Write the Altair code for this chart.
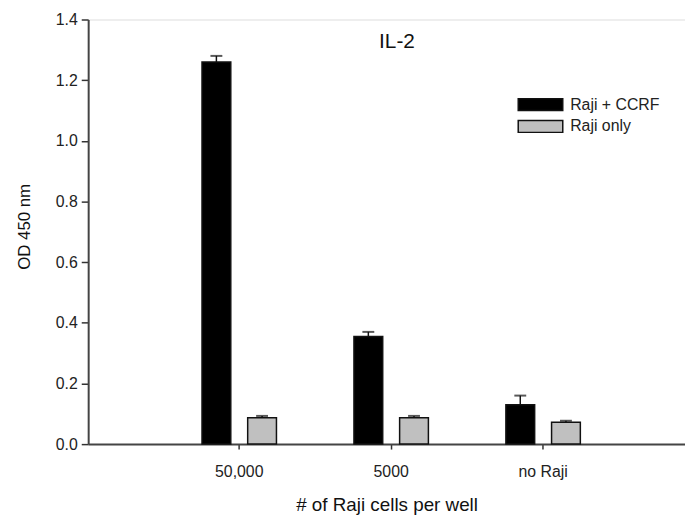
import altair as alt
import pandas as pd

categories = ["50,000", "5000", "no Raji"]
series = ["Raji + CCRF", "Raji only"]
raji_ccrf = [1.26, 0.355, 0.13]
raji_ccrf_err = [0.02, 0.015, 0.03]
raji_only = [0.087, 0.087, 0.072]
raji_only_err = [0.006, 0.006, 0.005]
colors = ["#000000", "#c0c0c0"]

rows = []
for i, c in enumerate(categories):
    rows.append({"cat": c, "series": series[0], "val": raji_ccrf[i], "hi": raji_ccrf[i] + raji_ccrf_err[i]})
    rows.append({"cat": c, "series": series[1], "val": raji_only[i], "hi": raji_only[i] + raji_only_err[i]})
df = pd.DataFrame(rows)

FONT = "Liberation Sans"

x = alt.X("cat:N", sort=categories, title="# of Raji cells per well",
          scale=alt.Scale(paddingInner=0.51, paddingOuter=0.719, align=0.521),
          axis=alt.Axis(labelAngle=0, labelFontSize=16, labelColor="#222222", labelFont=FONT,
                        titleFontSize=19, titleFont=FONT, titleFontWeight="normal", titleColor="#111111",
                        tickSize=5, tickColor="#333333", tickWidth=1.5,
                        domainColor="#444444", domainWidth=2, labelPadding=15,
                        titleY=61, titleBaseline="middle"))
xo = alt.XOffset("series:N", sort=series, scale=alt.Scale(paddingInner=0.37, paddingOuter=0))
y = alt.Y("val:Q", title="OD 450 nm",
          scale=alt.Scale(domain=[0, 1.4], nice=False),
          axis=alt.Axis(values=[0, 0.2, 0.4, 0.6, 0.8, 1.0, 1.2, 1.4], format=".1f", grid=False,
                        labelFontSize=16, labelColor="#222222", labelFont=FONT,
                        titleFontSize=17, titleFont=FONT, titleFontWeight="normal", titleColor="#111111",
                        tickSize=7, tickColor="#333333", tickWidth=1.5,
                        domainColor="#444444", domainWidth=2, labelPadding=4,
                        titleX=-64, titleY=209, titleBaseline="middle"))

base = alt.Chart(df)

bars = base.mark_bar(stroke="#111111", strokeWidth=1.5).encode(
    x=x, xOffset=xo, y=y,
    fill=alt.Fill("series:N", sort=series,
                  scale=alt.Scale(domain=series, range=colors),
                  legend=alt.Legend(title=None, orient="none", legendX=447, legendY=76,
                                    symbolType="M-2.5,-0.67L2.5,-0.67L2.5,0.67L-2.5,0.67Z",
                                    symbolSize=324, symbolStrokeColor="#111111",
                                    symbolStrokeWidth=1.5, labelFontSize=16, labelFont=FONT,
                                    labelColor="#222222", rowPadding=2, labelOffset=20)),
)

err = base.mark_rule(color="#111111", strokeWidth=1.5).encode(
    x=x, xOffset=xo, y="val:Q", y2="hi:Q")
caps = base.mark_tick(color="#111111", thickness=2, size=12, orient="horizontal").encode(
    x=x, xOffset=xo, y="hi:Q")

title_df = pd.DataFrame({"t": ["IL-2"]})
title = alt.Chart(title_df).mark_text(fontSize=21, font=FONT, color="#111111").encode(
    text="t:N", x=alt.value(312), y=alt.value(23))

chart = alt.layer(bars, err, caps, title).properties(
    width=603, height=429,
    autosize=alt.AutoSizeParams(type="none"),
    padding={"left": 81, "top": 9, "right": 0, "bottom": 70},
).configure_view(stroke=None).configure(background="white")

chart.save("out.html", embed_options={"renderer": "svg", "actions": False})
